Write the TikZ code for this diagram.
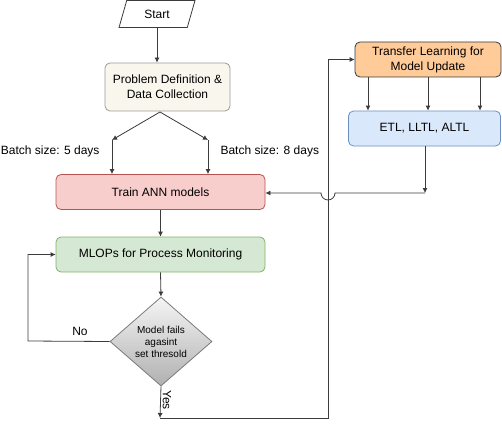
\documentclass[tikz,border=0pt]{standalone}
\usepackage{fontspec}
\setmainfont{Liberation Sans}
\usepackage{tikz}
\usetikzlibrary{arrows.meta,shapes.geometric}
\definecolor{lnline}{HTML}{3C3C3C}
\definecolor{cremefill}{HTML}{F9F7ED}
\definecolor{cremedraw}{HTML}{9A9A9A}
\definecolor{redfill}{HTML}{F8CECC}
\definecolor{reddraw}{HTML}{B85450}
\definecolor{greenfill}{HTML}{D5E8D4}
\definecolor{greendraw}{HTML}{82B366}
\definecolor{bluefill}{HTML}{DAE8FC}
\definecolor{bluedraw}{HTML}{6C8EBF}
\definecolor{orangefill}{HTML}{FFCC99}
\definecolor{orangedraw}{HTML}{36393D}
\definecolor{dectop}{HTML}{F5F5F5}
\definecolor{decbot}{HTML}{B0B0B0}
\definecolor{decdraw}{HTML}{7A7A7A}

\begin{document}
\begin{tikzpicture}[x=1pt,y=-1pt,font=\fontsize{12}{15}\selectfont,
  ln/.style={lnline,line width=0.8pt},
  arr/.style={ln,-{Latex[length=5pt,width=5pt]}},
  bx/.style={rectangle,rounded corners=5pt,line width=0.8pt,align=center,
    minimum width=209pt,minimum height=35pt,inner sep=2pt},
  dec/.style={diamond,draw=decdraw,line width=0.8pt,top color=dectop,bottom color=decbot,
    aspect=1.15,inner sep=0pt,minimum width=102pt,minimum height=89pt,align=center,
    font=\fontsize{10}{12}\selectfont}]
  \useasboundingbox (0,0) rectangle (502,425);
  \node[trapezium,trapezium left angle=75,trapezium right angle=105,trapezium stretches=true,
    draw=lnline,line width=0.8pt,fill=white,minimum width=76pt,minimum height=27pt] (start) at (157,14) {Start};
  \node[bx,fill=cremefill,draw=cremedraw,minimum width=125pt,minimum height=48pt] (prob) at (167.5,87)
    {Problem Definition \&\\Data Collection};
  \node[bx,fill=redfill,draw=reddraw] (train) at (160.5,192) {Train ANN models};
  \node[bx,fill=greenfill,draw=greendraw] (mlops) at (160.5,254.5) {MLOPs for Process Monitoring};
  \node[dec] (fail) at (161,341.5) {Model fails\\agasint\\set thresold};
  \node[bx,fill=orangefill,draw=orangedraw,minimum width=146pt] (tl) at (428,59.5)
    {Transfer Learning for\\Model Update};
  \node[bx,fill=bluefill,draw=bluedraw,minimum width=152pt] (etl) at (424.5,128.5) {ETL, LLTL, ALTL};
  \coordinate (split) at (160,112);
  \coordinate (b5) at (112,140);
  \coordinate (b8) at (208,140);
  \coordinate (yesend) at (160,418);
  \coordinate (rail) at (328,418);
  \coordinate (back) at (425,193);
  \coordinate (noturn) at (28,341);
  \draw[arr] (start.south) -- (start.south |- prob.north);
  \draw[arr] (split) -- (b5);
  \draw[arr] (split) -- (b8);
  \draw[arr] (b5) -- (b5 |- train.north);
  \draw[arr] (b8) -- (b8 |- train.north);
  \node[anchor=east] (lb5) at (103,151) {Batch size: 5 days};
  \node[anchor=west] (lb8) at (217,151) {Batch size: 8 days};
  \draw[arr] (train.south) -- (mlops.north);
  \draw[arr] (mlops.south) -- (fail.north);
  \draw[arr] (fail.west) -- (noturn) |- (mlops.west);
  \node (no) at (80,331) {No};
  \draw[arr] (fail.south) -- (yesend);
  \node[rotate=-90] (yes) at (167,400) {Yes};
  \draw[arr] (yesend) -- (rail) |- (tl.west);
  \foreach \x in {368,428,480}
    \draw[arr] (tl.south -| \x,0) -- (etl.north -| \x,0);
  \draw[arr] (etl.south -| back) -- (back);
  \draw[arr] (back) -- ([xshift=7pt]rail |- back) arc[start angle=0,end angle=180,radius=7] -- (train.east |- back);
\end{tikzpicture}
\end{document}
